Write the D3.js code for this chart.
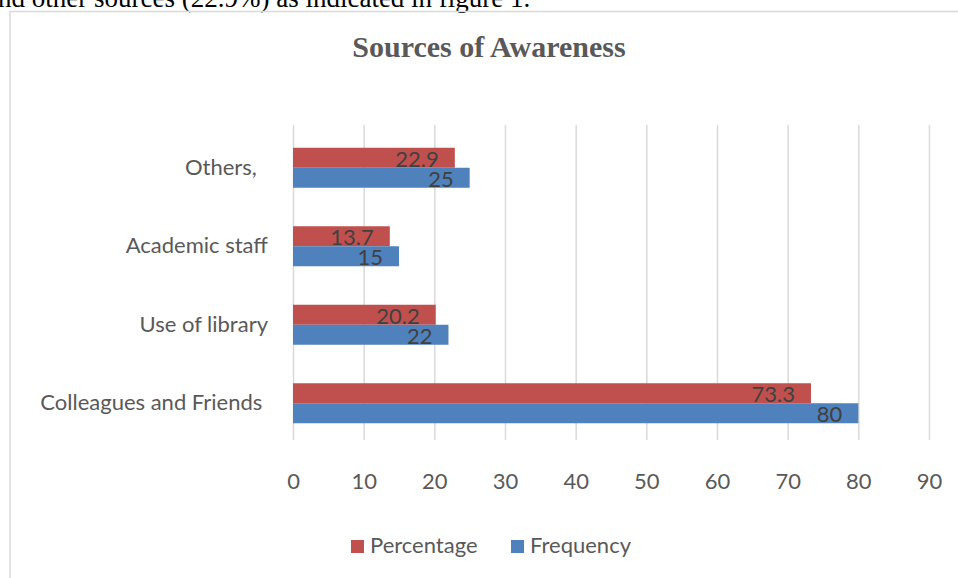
<!DOCTYPE html>
<html>
<head>
<meta charset="utf-8">
<script src="https://cdn.jsdelivr.net/npm/d3@7"></script>
<style>
  body { margin: 0; background: #fff; }
  svg { display: block; }
  .cat-label { white-space: pre; }
</style>
</head>
<body>
<div id="chart"></div>
<script>
// Data
const categories = ["Others,  ", "Academic staff", "Use of library", "Colleagues and Friends "];
const percentage = [22.9, 13.7, 20.2, 73.3];
const frequency = [25, 15, 22, 80];
const xTicks = [0, 10, 20, 30, 40, 50, 60, 70, 80, 90];
const seriesNames = ["Percentage", "Frequency"];
const colors = ["#c0504d", "#4f81bd"];

const width = 958, height = 578;
const margin = { top: 129, right: 29, bottom: 135, left: 293 };
const innerWidth = width - margin.left - margin.right;
const innerHeight = height - margin.top - margin.bottom;
const labelFont = "Lato, Open Sans, sans-serif";

const svg = d3.select("#chart")
  .append("svg")
    .attr("width", width)
    .attr("height", height);

// Text of the page above the chart, cut off at the top
svg.append("text")
  .attr("x", -2)
  .attr("y", 7)
  .attr("font-family", "Liberation Serif, Times New Roman, serif")
  .attr("font-size", 27)
  .attr("fill", "#000")
  .text("nd other sources (22.9%) as indicated in figure 1.");

// Chart area border
svg.append("rect")
  .attr("x", 10)
  .attr("y", 11.5)
  .attr("width", 1000)
  .attr("height", 700)
  .attr("fill", "none")
  .attr("stroke", "#d9d9d9")
  .attr("stroke-width", 1.5);

// Title
svg.append("text")
  .attr("x", 489)
  .attr("y", 57)
  .attr("text-anchor", "middle")
  .attr("font-family", "Liberation Serif, Times New Roman, serif")
  .attr("font-weight", "bold")
  .attr("font-size", 30)
  .attr("fill", "#595959")
  .text("Sources of Awareness");

const innerChart = svg.append("g")
  .attr("transform", `translate(${margin.left}, ${margin.top})`);

// Scales
const xScale = d3.scaleLinear()
  .domain([0, 90])
  .range([0, innerWidth]);

const yScale = d3.scaleBand()
  .domain(categories)
  .range([0, innerHeight])
  .paddingInner(0);

const barH = 20;

// Gridlines and bottom labels
const bottomAxis = d3.axisBottom(xScale)
  .tickValues(xTicks)
  .tickSize(innerHeight * -1 - 1)
  .tickPadding(33)
  .tickFormat(d3.format("d"));
const axis = innerChart.append("g")
  .attr("class", "axis-x")
  .attr("transform", `translate(0, ${innerHeight - 3})`)
  .call(bottomAxis);
axis.select(".domain").remove();
axis.selectAll("line")
  .attr("stroke", "#d9d9d9")
  .attr("stroke-width", 1.5);
axis.selectAll("text")
  .attr("font-family", labelFont)
  .attr("font-size", 22)
  .attr("fill", "#595959");

// Category labels
innerChart.selectAll(".cat-label")
  .data(categories)
  .join("text")
    .attr("class", "cat-label")
    .attr("x", -25)
    .attr("y", d => yScale(d) + yScale.bandwidth() / 2 + 1)
    .attr("text-anchor", "end")
    .attr("dominant-baseline", "middle")
    .attr("font-family", labelFont)
    .attr("font-size", 22)
    .attr("fill", "#595959")
    .text(d => d);

// Bars
const seriesData = [percentage, frequency];
seriesData.forEach((values, s) => {
  const rows = categories.map((c, i) => ({ cat: c, value: values[i] }));
  const offset = s === 0 ? -barH : 0;
  const barY = d => yScale(d.cat) + yScale.bandwidth() / 2 - 0.5 + offset;
  innerChart.selectAll(`.bar-${s}`)
    .data(rows)
    .join("rect")
      .attr("class", `bar-${s}`)
      .attr("x", xScale(0))
      .attr("y", barY)
      .attr("width", d => xScale(d.value) - xScale(0))
      .attr("height", barH)
      .attr("fill", colors[s]);

  innerChart.selectAll(`.lbl-${s}`)
    .data(rows)
    .join("text")
      .attr("class", `lbl-${s}`)
      .attr("x", d => xScale(d.value) - 16)
      .attr("y", d => barY(d) + barH - 1)
      .attr("text-anchor", "end")
      .attr("font-family", labelFont)
      .attr("font-size", 22)
      .attr("fill", "#404040")
      .text(d => d.value);
});

// Legend
const legendX = [351, 511];
const legend = svg.selectAll(".legend")
  .data(seriesNames)
  .join("g")
    .attr("class", "legend")
    .attr("transform", (d, i) => `translate(${legendX[i]}, 540)`);
legend.append("rect")
  .attr("width", 13)
  .attr("height", 13)
  .attr("fill", (d, i) => colors[i]);
legend.append("text")
  .attr("x", 19)
  .attr("y", 7)
  .attr("dominant-baseline", "middle")
  .attr("font-family", labelFont)
  .attr("font-size", 22)
  .attr("fill", "#595959")
  .text(d => d);
</script>
</body>
</html>
